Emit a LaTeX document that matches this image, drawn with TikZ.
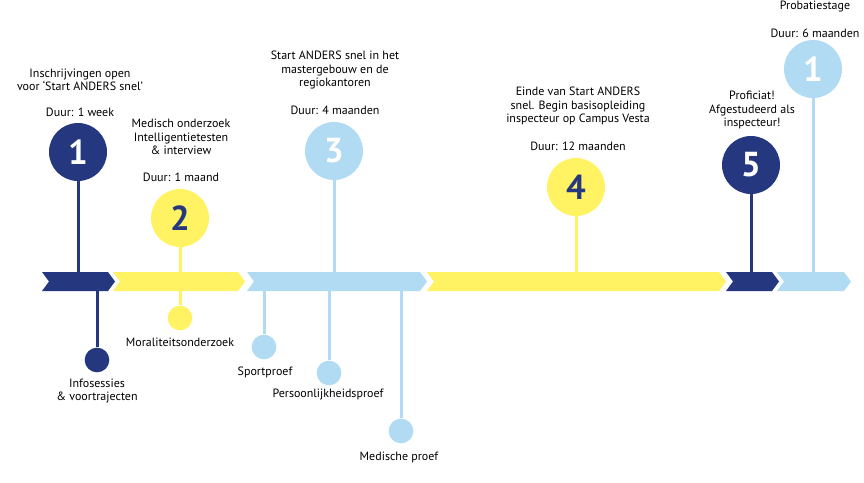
\documentclass[tikz,border=0pt]{standalone}
\usepackage{fontspec}
\setmainfont{PT Sans}
\definecolor{navy}{HTML}{24377F}
\definecolor{sun}{HTML}{FFF263}
\definecolor{sky}{HTML}{B1DAF3}

\begin{document}
\begin{tikzpicture}[x = 0.75pt, y = -0.75pt, every node/.style = {align = center,
	inner sep = 0pt, font = \fontsize{9}{9.9}\selectfont},
	bigdot/.style = {circle, minimum size = 43.5pt, font = \fontsize{26}{26}\selectfont\bfseries},
	smalldot/.style = {circle, minimum size = 18.5pt},
	stem/.style = {line width = 2.25pt}]

	\useasboundingbox (0,0) rectangle (864,482);

	\coordinate (top) at (0,272);
	\coordinate (bot) at (0,291);

	% timeline
	\foreach \a/\b/\col in {42/108/navy, 113/238/sun, 247/420/sky, 427/719/sun, 726/772/navy, 777/844/sky}
		\fill[\col] (\a,272) -- (\b,272) -- (\b+7,281.5) -- (\b,291) -- (\a,291) -- (\a+7,281.5) -- cycle;

	% steps above
	\foreach \n/\x/\y/\col/\txt/\num in {c1/78/152/navy/white/1, c2/180/218/sun/navy/2, c3/334/151/sky/white/3,
		c4/576/187/sun/navy/4, c5/751/165/navy/white/5, c6/813/69/sky/white/1}
	{
		\node[bigdot, fill = \col, text = \txt] (\n) at (\x,\y) {\num};
		\draw[stem, \col] (\n) -- (\n |- top);
	}

	% tests below
	\foreach \n/\x/\y/\col in {s1/97/360/navy, s2/180/318/sun, s3/264/347/sky, s4/329/373/sky, s5/401/431/sky}
	{
		\node[smalldot, fill = \col] (\n) at (\x,\y) {};
		\draw[stem, \col] (\n) -- (\n |- bot);
	}

	\node (l1) at (80,80)  {Inschrijvingen open\\voor `Start ANDERS snel'};
	\node (d1) at (80,112) {Duur: 1 week};
	\node (l2) at (181,137) {Medisch onderzoek\\Intelligentietesten\\\& interview};
	\node (d2) at (181,177) {Duur: 1 maand};
	\node (l3) at (335,70) {Start ANDERS snel in het\\mastergebouw en de\\regiokantoren};
	\node (d3) at (335,110) {Duur: 4 maanden};
	\node (l4) at (578,106) {Einde van Start ANDERS\\snel. Begin basisopleiding\\inspecteur op Campus Vesta};
	\node (d4) at (578,146) {Duur: 12 maanden};
	\node (l5) at (752,110) {Proficiat!\\Afgestudeerd als\\inspecteur!};
	\node (l6) at (815,7)  {Probatiestage};
	\node (d6) at (815,33) {Duur: 6 maanden};

	\node (t1) at (97,391)  {Infosessies\\\& voortrajecten};
	\node (t2) at (180,342) {Moraliteitsonderzoek};
	\node (t3) at (265,372) {Sportproef};
	\node (t4) at (328,395) {Persoonlijkheidsproef};
	\node (t5) at (399,457) {Medische proef};

\end{tikzpicture}
\end{document}
